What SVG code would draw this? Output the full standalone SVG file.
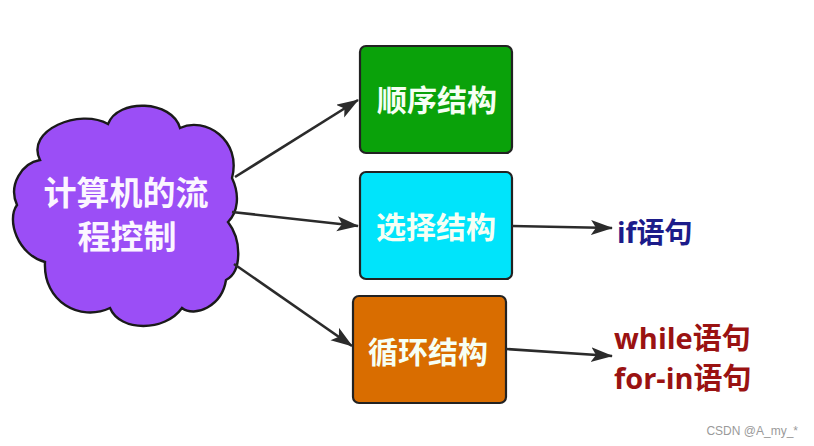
<svg xmlns="http://www.w3.org/2000/svg" width="814" height="446" viewBox="0 0 814 446">
<style>
.box{stroke:#222;stroke-width:2.2}
.bt{font-family:"Noto Sans CJK SC","Noto Sans",sans-serif;font-weight:bold;font-size:30px;fill:#f6fff4;text-anchor:middle}
.ct{font-family:"Noto Sans CJK SC","Noto Sans",sans-serif;font-weight:bold;font-size:33px;fill:#fbf6ff;text-anchor:middle}
.lab{font-family:"Open Sans","Noto Sans CJK SC",sans-serif;font-weight:bold}
.conn line{stroke:#2b2b2b;stroke-width:2.6;marker-end:url(#ah)}
</style>
<defs>
<marker id="ah" markerUnits="userSpaceOnUse" markerWidth="24" markerHeight="18" refX="21" refY="7.5" orient="auto">
<path d="M0,0 L22,7.5 L0,15 L5,7.5 Z" fill="#2b2b2b"/>
</marker>
</defs>
<rect width="814" height="446" fill="#ffffff"/>
<g id="cloud">
<path d="M40,160 C25,130 80,108 108,124 C118,98 172,100 180,128 C205,116 242,140 232,178 C240,195 238,212 228,222 C242,240 242,272 226,280 C222,306 195,318 182,308 C165,332 120,332 110,308 C80,322 43,302 45,262 C18,255 6,220 17,205 C8,185 22,163 40,160 Z" fill="#9b4ef6" stroke="#1a1a1a" stroke-width="2.4"/>
<text class="ct" x="126" y="205">计算机的流</text>
<text class="ct" x="127" y="249">程控制</text>
</g>
<g id="seq">
<rect class="box" x="360" y="46" width="152" height="107" rx="6" fill="#0aa20a"/>
<text class="bt" x="437" y="111">顺序结构</text>
</g>
<g id="sel">
<rect class="box" x="360" y="172" width="152" height="107" rx="6" fill="#00e4fb"/>
<text class="bt" x="436" y="238">选择结构</text>
</g>
<g id="loop">
<rect class="box" x="353" y="296" width="153" height="107" rx="6" fill="#d96d00"/>
<text class="bt" x="428" y="363">循环结构</text>
</g>
<g id="if">
<text class="lab" x="617" y="243" font-size="28" fill="#1c1c8a">if语句</text>
</g>
<g id="whilefor">
<text class="lab" x="614" y="349" font-size="29" fill="#9a1212">while语句</text>
<text class="lab" x="614" y="389" font-size="29" fill="#9a1212">for-in语句</text>
</g>
<g class="conn" id="connectors">
<line x1="235" y1="177" x2="358" y2="100"/>
<line x1="232" y1="212" x2="358" y2="226"/>
<line x1="234" y1="264" x2="352" y2="346"/>
<line x1="512" y1="226" x2="612" y2="228"/>
<line x1="506" y1="349" x2="612" y2="356"/>
</g>
<text x="798" y="435" font-family="Liberation Sans,sans-serif" font-size="12" fill="#9a9a9a" text-anchor="end">CSDN @A_my_*</text>
</svg>
